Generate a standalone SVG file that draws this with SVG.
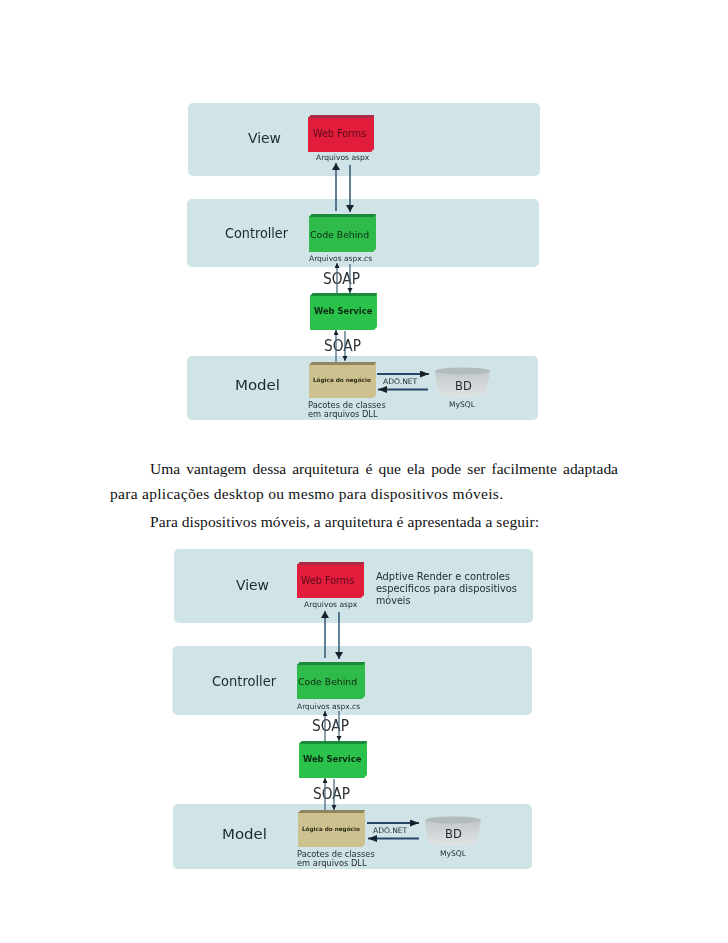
<svg xmlns="http://www.w3.org/2000/svg" width="728" height="943" viewBox="0 0 728 943">
<style>
text{font-family:"DejaVu Sans","Liberation Sans",sans-serif;fill:#1f2a2e}
.panel{fill:#d0e3e6}
.lay{font-size:14.5px}
.bf{font-size:9.6px;fill:#5b0a1e}
.bc{font-size:9.3px;fill:#0c2b12}
.bw{font-size:8.4px;font-weight:bold;fill:#0c2b12}
.bl{font-size:5.7px;font-weight:bold;fill:#2a2a14}
.ax{font-size:7.6px}
.acs{font-size:7.5px}
.sm{font-size:8.3px}
.note{font-size:9.6px}
.bd{font-size:11.500px}
.soap{font-size:15px;fill:#2a3034}
.body{font-family:"Liberation Serif",serif;font-size:15.5px;fill:#111}
.cn{fill:none;stroke:#2f5570;stroke-width:1.5}
.cs{fill:none;stroke:#3f5f78;stroke-width:1.2}
.ch{fill:none;stroke:#264a68;stroke-width:1.8}
.top-r{fill:#a82a45}.top-g{fill:#1f8a3a}.top-t{fill:#8d8660}
</style>
<defs>
<filter id="soft" x="-5%" y="-5%" width="110%" height="110%"><feGaussianBlur stdDeviation="0.45"/></filter>
<marker id="ah" markerUnits="userSpaceOnUse" markerWidth="9" markerHeight="9" refX="7" refY="4" orient="auto"><path d="M0 0L7 4L0 8Z" fill="#13202c"/></marker>
<marker id="as" markerUnits="userSpaceOnUse" markerWidth="6" markerHeight="6" refX="5" refY="2.500" orient="auto"><path d="M0 0L5 2.500L0 5Z" fill="#13202c"/></marker>
<marker id="al" markerUnits="userSpaceOnUse" markerWidth="10" markerHeight="8" refX="9" refY="3.500" orient="auto"><path d="M0 0L9 3.500L0 7Z" fill="#13202c"/></marker>
<linearGradient id="cyl" x1="0" x2="0" y1="0" y2="1"><stop offset="0" stop-color="#c2c7c9"/><stop offset="1" stop-color="#e0e3e4"/></linearGradient>
</defs>
<rect width="728" height="943" fill="#fff"/>

<g id="diagram-1" filter="url(#soft)">
<g id="view-1"><rect class="panel" x="188" y="103" width="352" height="73" rx="5"/><text class="lay" x="248" y="143" textLength="33" lengthAdjust="spacingAndGlyphs">View</text></g>
<g id="controller-1"><rect class="panel" x="187" y="199" width="352" height="68" rx="5"/><text class="lay" x="225" y="238" textLength="63" lengthAdjust="spacingAndGlyphs">Controller</text></g>
<g id="model-1"><rect class="panel" x="187" y="356" width="351" height="64" rx="5"/><text class="lay" x="235" y="390" textLength="45" lengthAdjust="spacingAndGlyphs">Model</text></g>
<g id="webforms-1"><path d="M308 118l3-3h63v34l-3 3h-63z" fill="#e21c3a"/><path class="top-r" d="M308 118l3-3h63l-1 3z"/><text class="bf" x="313" y="137">Web Forms</text><text class="ax" x="316" y="160">Arquivos aspx</text></g>
<g id="codebehind-1"><path d="M309 217l3-3h64v35l-3 3h-64z" fill="#2fbb4a"/><path class="top-g" d="M309 217l3-3h64l-2 3z"/><text class="bc" x="310" y="238">Code Behind</text><text class="acs" x="309" y="261">Arquivos aspx.cs</text></g>
<g id="webservice-1"><path d="M310 296l3-3h64v34l-3 3h-64z" fill="#2cc24c"/><path class="top-g" d="M310 296l3-3h64l-2 3z"/><text class="bw" x="314" y="314">Web Service</text></g>
<g id="logica-1"><path d="M309 365l3-3h64v33l-3 3h-64z" fill="#cdc18f"/><path class="top-t" d="M309 365l3-3h64l-2 3z"/><text class="bl" x="313" y="382">Lógica do negócio</text><text class="sm" x="308" y="408">Pacotes de classes</text><text class="sm" x="308" y="417">em arquivos DLL</text></g>
<g id="bd-1"><path d="M435 371l3 22c6 5 43 5 48 0l4-22z" fill="url(#cyl)"/><ellipse cx="462.500" cy="371" rx="27.500" ry="3.500" fill="#b4bbbe"/><text class="bd" x="455" y="390">BD</text><text class="ax" x="449" y="407">MySQL</text></g>
<g id="labels-1"><text class="soap" x="323" y="283.500" textLength="37" lengthAdjust="spacingAndGlyphs">SOAP</text><text class="soap" x="324" y="351" textLength="37" lengthAdjust="spacingAndGlyphs">SOAP</text><text class="ax" x="383" y="384">ADO.NET</text></g>
<g id="connectors-1">
<line class="cn" x1="336" y1="211" x2="336" y2="163" marker-end="url(#ah)"/>
<line class="cn" x1="350" y1="165" x2="350" y2="212" marker-end="url(#ah)"/>
<line class="cs" x1="337" y1="293" x2="337" y2="263" marker-end="url(#as)"/>
<line class="cs" x1="350" y1="264" x2="350" y2="293" marker-end="url(#as)"/>
<line class="cs" x1="336" y1="362" x2="336" y2="330" marker-end="url(#as)"/>
<line class="cs" x1="345" y1="331" x2="345" y2="361" marker-end="url(#as)"/>
<line class="ch" x1="377" y1="374" x2="429" y2="374" marker-end="url(#al)"/>
<line class="ch" x1="428" y1="389.500" x2="378" y2="389.500" marker-end="url(#al)"/>
</g>
</g>

<g id="paragraph">
<text class="body" x="150" y="474" word-spacing="2.3" textLength="468">Uma vantagem dessa arquitetura é que ela pode ser facilmente adaptada</text>
<text class="body" x="110" y="499" textLength="393">para aplicações desktop ou mesmo para dispositivos móveis.</text>
<text class="body" x="150" y="527" textLength="389">Para dispositivos móveis, a arquitetura é apresentada a seguir:</text>
</g>

<g id="diagram-2" filter="url(#soft)">
<g id="view-2"><rect class="panel" x="174" y="549" width="359" height="74" rx="5"/><text class="lay" x="236" y="590" textLength="33" lengthAdjust="spacingAndGlyphs">View</text><text class="note" x="376" y="580" textLength="134" lengthAdjust="spacingAndGlyphs">Adptive Render e controles</text><text class="note" x="376" y="592" textLength="141" lengthAdjust="spacingAndGlyphs">especificos para dispositivos</text><text class="note" x="376" y="604">móveis</text></g>
<g id="controller-2"><rect class="panel" x="172.500" y="646" width="359.500" height="69" rx="5"/><text class="lay" x="212" y="686" textLength="64" lengthAdjust="spacingAndGlyphs">Controller</text></g>
<g id="model-2"><rect class="panel" x="173" y="804" width="359" height="65" rx="5"/><text class="lay" x="222" y="839" textLength="45" lengthAdjust="spacingAndGlyphs">Model</text></g>
<g id="webforms-2"><path d="M297 565l3-3h64v33l-3 3h-64z" fill="#e21c3a"/><path class="top-r" d="M297 565l3-3h64l-2 3z"/><text class="bf" x="301" y="584">Web Forms</text><text class="ax" x="304" y="607">Arquivos aspx</text></g>
<g id="codebehind-2"><path d="M297 665l3-3h65v34l-3 3h-65z" fill="#2fbb4a"/><path class="top-g" d="M297 665l3-3h65l-2 3z"/><text class="bc" x="298" y="685">Code Behind</text><text class="acs" x="297" y="709">Arquivos aspx.cs</text></g>
<g id="webservice-2"><path d="M299 744l3-3h65v34l-3 3h-65z" fill="#2cc24c"/><path class="top-g" d="M299 744l3-3h65l-2 3z"/><text class="bw" x="303" y="762">Web Service</text></g>
<g id="logica-2"><path d="M298 813l3-3h64v34l-3 3h-64z" fill="#cdc18f"/><path class="top-t" d="M298 813l3-3h64l-2 3z"/><text class="bl" x="302" y="831">Lógica do negócio</text><text class="sm" x="297" y="857">Pacotes de classes</text><text class="sm" x="297" y="866">em arquivos DLL</text></g>
<g id="bd-2"><path d="M425 820l3 22c6 5 43 5 49 0l4-22z" fill="url(#cyl)"/><ellipse cx="453" cy="820" rx="28" ry="3.500" fill="#b4bbbe"/><text class="bd" x="445" y="838">BD</text><text class="ax" x="440" y="856">MySQL</text></g>
<g id="labels-2"><text class="soap" x="312" y="731" textLength="37" lengthAdjust="spacingAndGlyphs">SOAP</text><text class="soap" x="313" y="799" textLength="37" lengthAdjust="spacingAndGlyphs">SOAP</text><text class="ax" x="373" y="833">ADO.NET</text></g>
<g id="connectors-2">
<line class="cn" x1="325" y1="658" x2="325" y2="611" marker-end="url(#ah)"/>
<line class="cn" x1="339" y1="612" x2="339" y2="659" marker-end="url(#ah)"/>
<line class="cs" x1="325" y1="741" x2="325" y2="711" marker-end="url(#as)"/>
<line class="cs" x1="339" y1="711" x2="339" y2="741" marker-end="url(#as)"/>
<line class="cs" x1="325" y1="810" x2="325" y2="778" marker-end="url(#as)"/>
<line class="cs" x1="334" y1="779" x2="334" y2="810" marker-end="url(#as)"/>
<line class="ch" x1="367" y1="823" x2="419" y2="823" marker-end="url(#al)"/>
<line class="ch" x1="419" y1="838.500" x2="368" y2="838.500" marker-end="url(#al)"/>
</g>
</g>
</svg>
